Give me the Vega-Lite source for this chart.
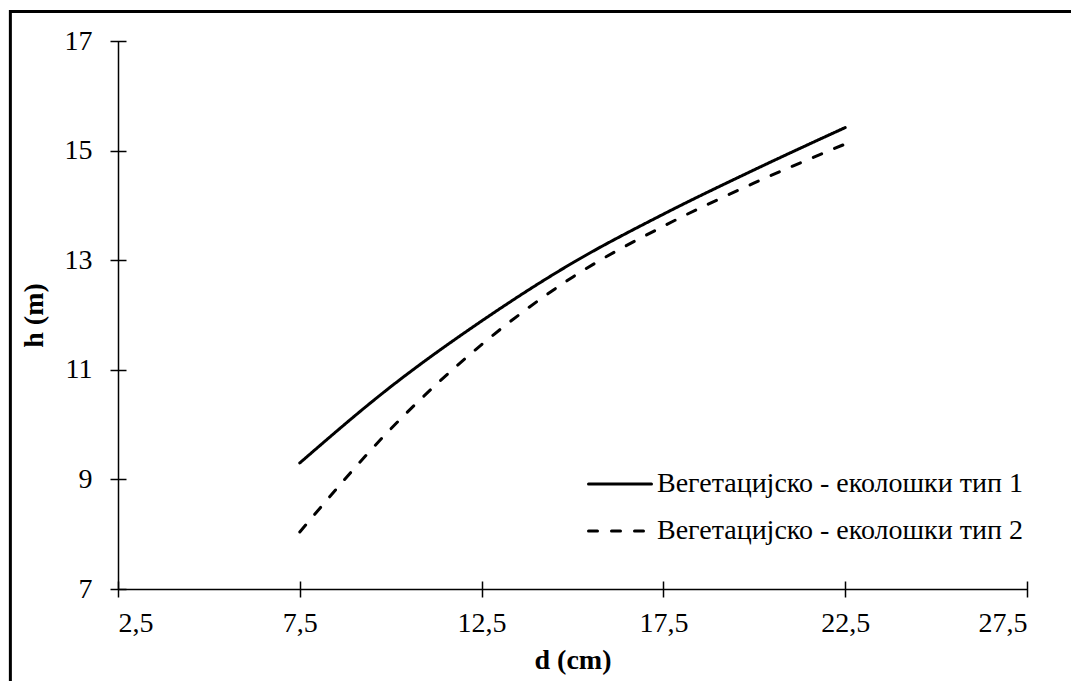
{
  "$schema": "https://vega.github.io/schema/vega-lite/v6.json",
  "autosize": {"type": "none"},
  "padding": {"left": 118, "top": 41, "right": 44, "bottom": 92},
  "width": 909,
  "height": 548,
  "background": "white",
  "config": {
    "view": {"stroke": null},
    "font": "Liberation Serif, DejaVu Serif, serif",
    "axis": {
      "grid": false,
      "domainColor": "black",
      "domainWidth": 1.5,
      "tickColor": "black",
      "tickWidth": 1.5,
      "tickSize": 8,
      "labelFont": "Liberation Serif, DejaVu Serif, serif",
      "labelFontSize": 28,
      "labelColor": "black",
      "titleFont": "Liberation Serif, DejaVu Serif, serif",
      "titleFontSize": 28,
      "titleFontWeight": "bold",
      "titleColor": "black"
    },
    "legend": {"labelFont": "Liberation Serif, DejaVu Serif, serif"}
  },
  "resolve": {"axis": {"x": "independent", "y": "independent"}},
  "layer": [
    {
      "data": {"values": [{"left": -0.46, "right": 31, "top": 17.54, "bottom": 5}]},
      "mark": {"type": "rect", "fill": null, "stroke": "black", "strokeWidth": 3, "clip": false},
      "encoding": {
        "x": {
          "field": "left", "type": "quantitative",
          "scale": {"domain": [2.5, 27.5], "nice": false, "zero": false},
          "axis": {"orient": "bottom", "values": [2.5, 7.5, 12.5, 17.5, 22.5, 27.5], "tickSize": 16, "offset": -8, "labels": false, "domain": false, "title": null}
        },
        "x2": {"field": "right"},
        "y": {
          "field": "top", "type": "quantitative",
          "scale": {"domain": [7, 17], "nice": false, "zero": false},
          "axis": {"orient": "left", "values": [7, 9, 11, 13, 15, 17], "tickSize": 16, "offset": -8, "labels": false, "domain": false, "title": null}
        },
        "y2": {"field": "bottom"}
      }
    },
    {
      "data": {
        "values": [
          {"d": 7.5, "h": 9.30, "series": "Вегетацијско - еколошки тип 1"},
          {"d": 10, "h": 10.69, "series": "Вегетацијско - еколошки тип 1"},
          {"d": 12.5, "h": 11.89, "series": "Вегетацијско - еколошки тип 1"},
          {"d": 15, "h": 12.95, "series": "Вегетацијско - еколошки тип 1"},
          {"d": 17.5, "h": 13.84, "series": "Вегетацијско - еколошки тип 1"},
          {"d": 20, "h": 14.65, "series": "Вегетацијско - еколошки тип 1"},
          {"d": 22.5, "h": 15.42, "series": "Вегетацијско - еколошки тип 1"},
          {"d": 7.5, "h": 8.04, "series": "Вегетацијско - еколошки тип 2"},
          {"d": 10, "h": 9.92, "series": "Вегетацијско - еколошки тип 2"},
          {"d": 12.5, "h": 11.46, "series": "Вегетацијско - еколошки тип 2"},
          {"d": 15, "h": 12.69, "series": "Вегетацијско - еколошки тип 2"},
          {"d": 17.5, "h": 13.62, "series": "Вегетацијско - еколошки тип 2"},
          {"d": 20, "h": 14.41, "series": "Вегетацијско - еколошки тип 2"},
          {"d": 22.5, "h": 15.12, "series": "Вегетацијско - еколошки тип 2"}
        ]
      },
      "mark": {"type": "line", "interpolate": "monotone", "color": "black", "strokeWidth": 3, "strokeCap": "round"},
      "encoding": {
        "x": {
          "field": "d", "type": "quantitative",
          "scale": {"domain": [2.5, 27.5], "nice": false, "zero": false},
          "axis": {
            "orient": "bottom",
            "values": [2.5, 7.5, 12.5, 17.5, 22.5, 27.5],
            "ticks": false,
            "labelExpr": "replace(format(datum.value, '.1f'), '.', ',')",
            "labelPadding": 20,
            "title": "d (cm)",
            "titlePadding": 9
          }
        },
        "y": {
          "field": "h", "type": "quantitative",
          "scale": {"domain": [7, 17], "nice": false, "zero": false},
          "axis": {
            "orient": "left",
            "values": [7, 9, 11, 13, 15, 17],
            "ticks": false,
            "labelPadding": 26,
            "title": "h (m)",
            "titlePadding": 16
          }
        },
        "strokeDash": {
          "field": "series", "type": "nominal",
          "scale": {
            "domain": ["Вегетацијско - еколошки тип 1", "Вегетацијско - еколошки тип 2"],
            "range": [[1, 0], [9, 14]]
          },
          "legend": {
            "title": null,
            "orient": "none",
            "legendX": 469,
            "legendY": 410,
            "padding": 0,
            "symbolType": "stroke",
            "symbolSize": 3969,
            "symbolStrokeWidth": 3,
            "symbolStrokeColor": "black",
            "labelFont": "Liberation Serif, DejaVu Serif, serif",
            "labelFontSize": 28,
            "labelColor": "black",
            "labelOffset": 4,
            "labelLimit": 0,
            "rowPadding": -12,
            "encode": {"symbols": {"update": {"strokeCap": {"value": "round"}}}}
          }
        }
      }
    }
  ]
}
